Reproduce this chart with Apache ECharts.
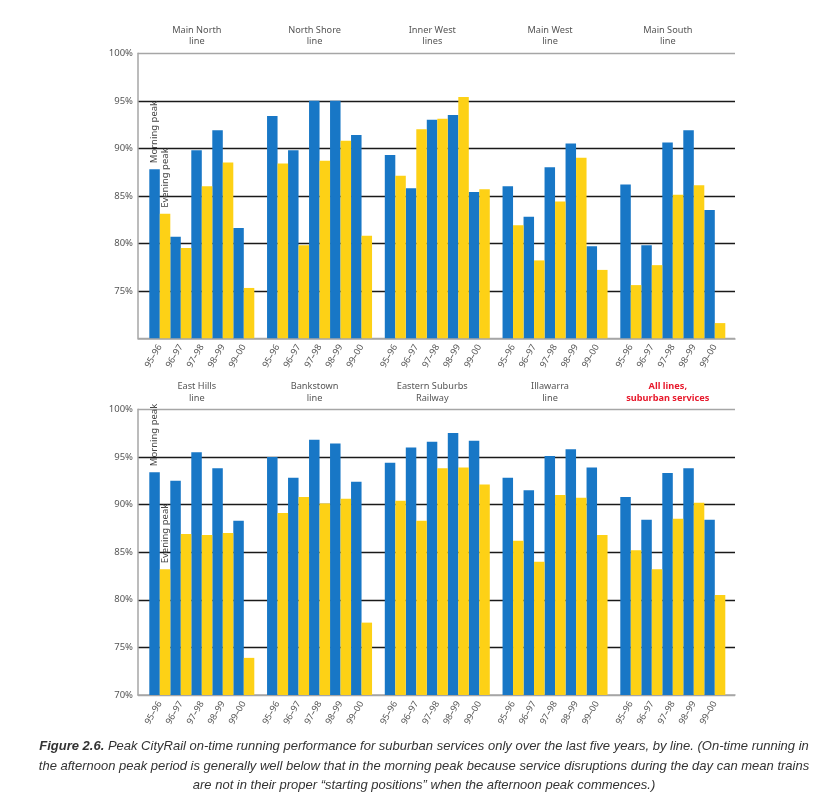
<!DOCTYPE html>
<html><head><meta charset="utf-8">
<script src="https://cdn.jsdelivr.net/npm/echarts@6/dist/echarts.min.js"></script>
<style>html,body{margin:0;padding:0;background:#fff}#c{width:836px;height:799px}</style>
</head><body><div id="c"></div>
<script>
// ---------- DATA ----------
const years = ['95–96', '96–97', '97–98', '98–99', '99–00'];
const yTicks = [70, 75, 80, 85, 90, 95, 100];

const topLines = ['Main North\nline', 'North Shore\nline', 'Inner West\nlines', 'Main West\nline', 'Main South\nline'];
const topMorning = [
  [87.8, 80.7, 89.8, 91.9, 81.6],
  [93.4, 89.8, 95.0, 95.0, 91.4],
  [89.3, 85.8, 93.0, 93.5, 85.4],
  [86.0, 82.8, 88.0, 90.5, 79.7],
  [86.2, 79.8, 90.6, 91.9, 83.5]
];
const topEvening = [
  [83.1, 79.5, 86.0, 88.5, 75.3],
  [88.4, 79.8, 88.7, 90.8, 80.8],
  [87.1, 92.0, 93.1, 95.4, 85.7],
  [81.9, 78.2, 84.4, 89.0, 77.2],
  [75.6, 77.7, 85.1, 86.1, 71.6]
];

const bottomLines = ['East Hills\nline', 'Bankstown\nline', 'Eastern Suburbs\nRailway', 'Illawarra\nline', 'All lines,\nsuburban services'];
const bottomMorning = [
  [93.4, 92.5, 95.5, 93.8, 88.3],
  [95.0, 92.8, 96.8, 96.4, 92.4],
  [94.4, 96.0, 96.6, 97.5, 96.7],
  [92.8, 91.5, 95.1, 95.8, 93.9],
  [90.8, 88.4, 93.3, 93.8, 88.4]
];
const bottomEvening = [
  [83.2, 86.9, 86.8, 87.0, 73.9],
  [89.1, 90.8, 90.1, 90.6, 77.6],
  [90.4, 88.3, 93.8, 93.9, 92.1],
  [86.2, 84.0, 91.0, 90.7, 86.8],
  [85.2, 83.2, 88.5, 90.2, 80.5]
];

const seriesNames = ['Morning peak', 'Evening peak'];
const caption = [
  '{b|Figure 2.6.} Peak CityRail on-time running performance for suburban services only over the last five years, by line. (On-time running in',
  'the afternoon peak period is generally well below that in the morning peak because service disruptions during the day can mean trains',
  'are not in their proper “starting positions” when the afternoon peak commences.)'
];

// ---------- LAYOUT ----------
const FONT = 'Noto Sans';
const BLUE = '#1877c6', YELLOW = '#fdd116';
const plotLeft = 138, plotRight = 735;
const groupLeft0 = 149.3, groupStep = 117.75, groupWidth = 105;
const panels = [
  {top: 53.3, bottomY: 338.3, titles: topLines, m: topMorning, e: topEvening, showMin: false, titleY: 24.5},
  {top: 409.3, bottomY: 695, titles: bottomLines, m: bottomMorning, e: bottomEvening, showMin: true, titleY: 381}
];

const grid = [], xAxis = [], yAxis = [], series = [], graphic = [];
const splitColors = yTicks.map((t, i) => (i === 0 || i === yTicks.length - 1) ? '#a6a6a6' : '#1a1a1a');

panels.forEach((p, pi) => {
  const h = p.bottomY - p.top;
  const mainIdx = grid.length;
  grid.push({left: plotLeft, width: plotRight - plotLeft, top: p.top, height: h});
  xAxis.push({type: 'value', gridIndex: mainIdx, min: 0, max: 1, axisLabel: {show: false}, axisTick: {show: false},
    splitLine: {show: false}, axisLine: {show: true, lineStyle: {color: '#a6a6a6', width: 1.5}}});
  yAxis.push({type: 'value', gridIndex: mainIdx, min: yTicks[0], max: yTicks[yTicks.length - 1], interval: 5,
    axisLine: {show: true, lineStyle: {color: '#a6a6a6', width: 1.5}}, axisTick: {show: false},
    axisLabel: {formatter: v => v + '%', color: '#555', fontSize: 9.5, fontFamily: FONT, margin: 5, showMinLabel: p.showMin},
    splitLine: {show: true, lineStyle: {color: splitColors, width: 1.3}}});

  for (let g = 0; g < 5; g++) {
    const idx = grid.length;
    const left = groupLeft0 + groupStep * g;
    grid.push({left: left, width: groupWidth, top: p.top, height: h});
    xAxis.push({type: 'category', gridIndex: idx, data: years, axisLine: {show: false}, axisTick: {show: false},
      axisLabel: {interval: 0, rotate: 60, color: '#555', fontSize: 9, fontFamily: FONT, margin: 7}});
    yAxis.push({type: 'value', gridIndex: idx, min: yTicks[0], max: yTicks[yTicks.length - 1], show: false});
    const isRed = (pi === 1 && g === 4);
    graphic.push({type: 'text', x: left + groupWidth / 2 - 5, y: p.titleY, silent: true,
      style: {text: p.titles[g], textAlign: 'center', textVerticalAlign: 'top', fill: isRed ? '#e8192c' : '#555',
        fontSize: 9.2, fontFamily: FONT, fontWeight: isRed ? 'bold' : 'normal', lineHeight: 11.5}});
    [p.m[g], p.e[g]].forEach((vals, si) => {
      const data = vals.map((v, i) => {
        if (g === 0 && i === 0) {
          return {value: v, label: {show: true, formatter: seriesNames[si], position: 'top', rotate: 90,
            align: 'left', verticalAlign: 'middle', distance: 6, color: '#444', fontSize: 9.5, fontFamily: FONT}};
        }
        return v;
      });
      series.push({type: 'bar', name: seriesNames[si], xAxisIndex: idx, yAxisIndex: idx, data: data,
        barGap: '0%', barCategoryGap: '0%', itemStyle: {color: si === 0 ? BLUE : YELLOW}, silent: true, z: 3});
    });
  }
});

// caption
graphic.push({type: 'text', x: 424, y: 737, silent: true,
  style: {text: caption.join('\n'), textAlign: 'center', textVerticalAlign: 'top', fill: '#333', fontSize: 13,
    fontStyle: 'italic', fontFamily: 'Liberation Sans', lineHeight: 19.3,
    rich: {b: {fontWeight: 'bold', fontStyle: 'italic', fontSize: 13, fontFamily: 'Liberation Sans', fill: '#333'}}}});

const chart = echarts.init(document.getElementById('c'), null, {renderer: 'canvas'});
chart.setOption({animation: false, backgroundColor: '#fff', grid, xAxis, yAxis, series, graphic});
</script></body></html>
